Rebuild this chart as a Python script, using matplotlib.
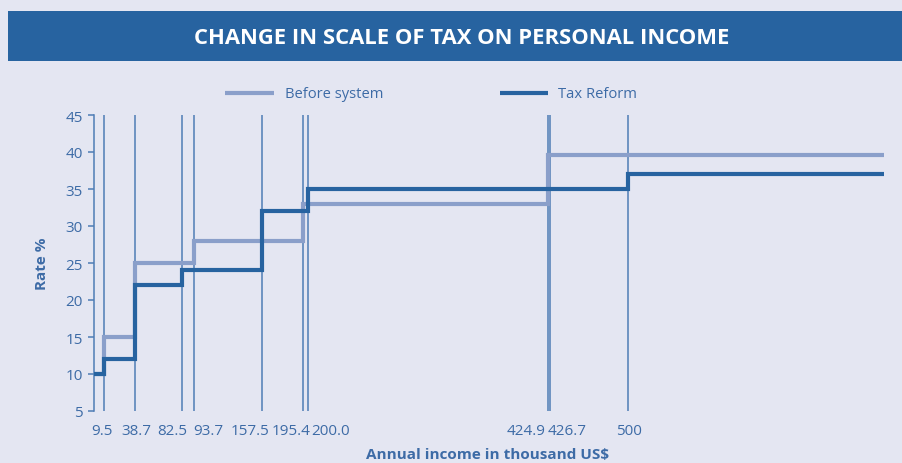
import matplotlib
matplotlib.use("Agg")
import matplotlib.pyplot as plt
from matplotlib.patches import Rectangle
from matplotlib.lines import Line2D
import matplotlib.transforms as mtransforms

# Data
thresholds = [9.5, 38.7, 82.5, 93.7, 157.5, 195.4, 200.0, 424.9, 426.7, 500]
threshold_labels = ["9.5", "38.7", "82.5", "93.7", "157.5", "195.4", "200.0", "424.9", "426.7", "500"]
before_x = [0, 9.5, 38.7, 93.7, 195.4, 424.9, 740]
before_y = [10, 15, 25, 28, 33, 39.6, 39.6]
reform_x = [0, 9.5, 38.7, 82.5, 157.5, 200.0, 500, 740]
reform_y = [10, 12, 22, 24, 32, 35, 37, 37]
y_ticks = [5, 10, 15, 20, 25, 30, 35, 40, 45]
series_names = ["Before system", "Tax Reform"]

# label horizontal nudges (pixels) to avoid overlap
label_nudge = [-2, 1, -10, 14, -12, -12, 23, -21, 18, 1]

bg = "#e4e6f2"
dark = "#2763a0"
light = "#8a9fca"
txt = "#3d6ba6"
vline = "#4f7db5"

plt.rcParams['font.family'] = ['Open Sans', 'DejaVu Sans']

fig = plt.figure(figsize=(9.03, 4.64), dpi=100, facecolor=bg)

# Title banner
fig.patches.append(Rectangle((8/903, 1 - 62/464), 1, 50/464, transform=fig.transFigure,
                             facecolor=dark, edgecolor='none', zorder=0))
fig.text(461.5/903, 1 - 38/464, "CHANGE IN SCALE OF TAX ON PERSONAL INCOME", color='white',
         fontsize=15.8, fontweight='bold', ha='center', va='center')

ax = fig.add_axes([94/903, 52/464, (884 - 94)/903, (412 - 116)/464])
ax.set_facecolor(bg)
ax.set_xlim(0, 740)
ax.set_ylim(5, 45)

for t in thresholds:
    ax.plot([t, t], [5, 45], color=vline, lw=1.1, zorder=1)

ax.step(before_x, before_y, where='post', color=light, lw=3.0, zorder=2,
        solid_joinstyle='miter')
ax.step(reform_x, reform_y, where='post', color=dark, lw=3.0, zorder=3,
        solid_joinstyle='miter')

for s in ['top', 'right', 'bottom']:
    ax.spines[s].set_visible(False)
ax.spines['left'].set_color(vline)
ax.spines['left'].set_linewidth(1.1)

ax.set_yticks(y_ticks)
ax.set_yticklabels([str(v) for v in y_ticks])
ax.tick_params(axis='y', colors=vline, labelcolor=txt, labelsize=11, length=4, width=1.1, pad=4)
ax.set_xticks(thresholds)
ax.set_xticklabels([])
ax.tick_params(axis='x', length=0)

for t, lab, dx in zip(thresholds, threshold_labels, label_nudge):
    tr = ax.get_xaxis_transform() + mtransforms.ScaledTranslation(dx / 100, -19.5 / 100, fig.dpi_scale_trans)
    ax.text(t, 0, lab, transform=tr, ha='center', va='center', color=txt, fontsize=11)

ax.set_ylabel("Rate %", color=txt, fontsize=11, fontweight='bold', labelpad=12)
fig.text(488/903, 1 - 455/464, "Annual income in thousand US$", color=txt, fontsize=11,
         fontweight='bold', ha='center', va='center')

# Legend drawn manually
leg_y = 1 - 94/464
for (x0, x1, tx), col, name in zip([(225, 274, 285), (500, 548, 558)], [light, dark], series_names):
    fig.add_artist(Line2D([x0/903, x1/903], [leg_y, leg_y], transform=fig.transFigure,
                          color=col, lw=3.0, solid_capstyle='butt'))
    fig.text(tx/903, leg_y, name, color=txt, fontsize=10.6, ha='left', va='center')

fig.savefig("out.png", dpi=100, facecolor=bg)
